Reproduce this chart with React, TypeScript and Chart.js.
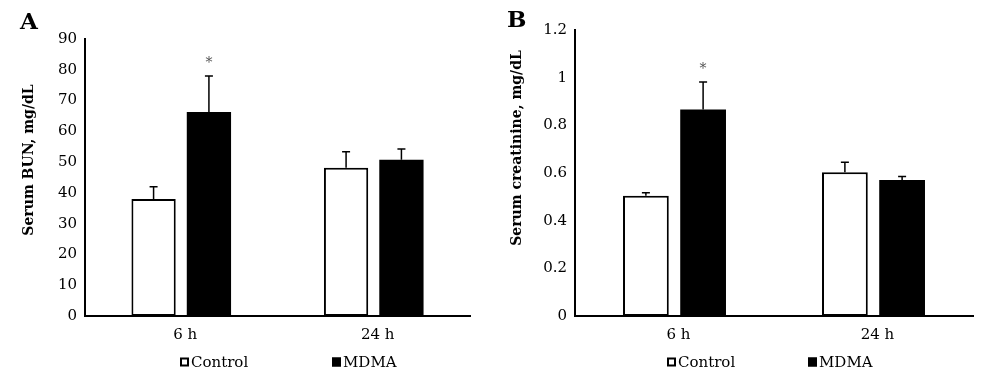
import React, { useEffect, useRef } from "react";
import { Chart, registerables } from "chart.js";

Chart.register(...registerables);

// ---- data ----
const categories = ["6 h", "24 h"];
const seriesNames = ["Control", "MDMA"];

const bunControl = [38, 48.2];
const bunControlErr = [4, 5.2];
const bunMdma = [66.3, 50.8];
const bunMdmaErr = [11.7, 3.5];
const bunControlMarks = ["", ""];
const bunMdmaMarks = ["*", ""];

const creatControl = [0.505, 0.603];
const creatControlErr = [0.012, 0.042];
const creatMdma = [0.866, 0.571];
const creatMdmaErr = [0.116, 0.014];
const creatControlMarks = ["", ""];
const creatMdmaMarks = ["*", ""];

const bunAxis = { max: 90, step: 10 };
const creatAxis = { max: 1.2, step: 0.2 };

const FONT = '"DejaVu Serif", serif';

const extrasPlugin = {
  id: "extras",
  afterDatasetsDraw(chart: any) {
    const { ctx } = chart;
    const yScale = chart.scales.y;
    chart.data.datasets.forEach((ds: any, i: number) => {
      const meta = chart.getDatasetMeta(i);
      meta.data.forEach((el: any, j: number) => {
        const v = ds.data[j];
        const err = ds.errors ? ds.errors[j] : 0;
        const yTop = yScale.getPixelForValue(v);
        const yErr = yScale.getPixelForValue(v + err);
        ctx.save();
        ctx.strokeStyle = "#000";
        ctx.lineWidth = 1.5;
        ctx.beginPath();
        ctx.moveTo(el.x, yTop);
        ctx.lineTo(el.x, yErr);
        ctx.moveTo(el.x - 4, yErr);
        ctx.lineTo(el.x + 4, yErr);
        ctx.stroke();
        const mark = ds.marks ? ds.marks[j] : "";
        if (mark) {
          ctx.fillStyle = "#555";
          ctx.font = `14px ${FONT}`;
          ctx.textAlign = "center";
          ctx.textBaseline = "alphabetic";
          ctx.fillText(mark, el.x, yErr - 9);
        }
        ctx.restore();
      });
    });
  },
  afterDraw(chart: any, _args: any, opts: any) {
    const { ctx, chartArea } = chart;
    ctx.save();
    // panel letter
    ctx.fillStyle = "#000";
    ctx.font = `bold 23px ${FONT}`;
    ctx.textAlign = "left";
    ctx.textBaseline = "alphabetic";
    ctx.fillText(opts.letter, opts.letterX, opts.letterY);
    // y axis title
    ctx.save();
    ctx.translate(opts.titleX, opts.titleY);
    ctx.rotate(-Math.PI / 2);
    ctx.font = `bold 14px ${FONT}`;
    ctx.textAlign = "center";
    ctx.textBaseline = "middle";
    ctx.fillText(opts.yTitle, 0, 0);
    ctx.restore();
    // legend
    const y = chartArea.bottom + 46;
    ctx.font = `15px ${FONT}`;
    ctx.textAlign = "left";
    ctx.textBaseline = "middle";
    chart.data.datasets.forEach((ds: any, i: number) => {
      const x = chartArea.left + opts.legendX[i];
      ctx.fillStyle = ds.backgroundColor;
      ctx.fillRect(x, y - 4.5, 9, 9);
      ctx.strokeStyle = "#000";
      ctx.lineWidth = 2;
      ctx.strokeRect(x + 1, y - 3.5, 7, 7);
      ctx.fillStyle = "#000";
      ctx.fillText(ds.label, x + 11, y + 1);
    });
    ctx.restore();
  },
};

type PanelCfg = {
  letter: string;
  letterX: number;
  letterY: number;
  yTitle: string;
  titleX: number;
  titleY: number;
  control: number[];
  controlErr: number[];
  controlMarks: string[];
  mdma: number[];
  mdmaErr: number[];
  mdmaMarks: string[];
  axis: { max: number; step: number };
  width: number;
  padRight: number;
  padTop: number;
  legendX: number[];
};

function BarPanel({ cfg }: { cfg: PanelCfg }) {
  const ref = useRef<HTMLCanvasElement>(null);
  useEffect(() => {
    const chart = new Chart(ref.current as HTMLCanvasElement, {
      type: "bar",
      data: {
        labels: categories,
        datasets: [
          {
            label: seriesNames[0],
            data: cfg.control,
            errors: cfg.controlErr,
            marks: cfg.controlMarks,
            backgroundColor: "#ffffff",
            borderColor: "#000000",
            borderWidth: 2,
            borderSkipped: false,
            categoryPercentage: 0.575,
            barPercentage: 0.8,
          } as any,
          {
            label: seriesNames[1],
            data: cfg.mdma,
            errors: cfg.mdmaErr,
            marks: cfg.mdmaMarks,
            backgroundColor: "#000000",
            borderColor: "#000000",
            borderWidth: 0,
            categoryPercentage: 0.575,
            barPercentage: 0.8,
          } as any,
        ],
      },
      options: {
        animation: false,
        responsive: false,
        maintainAspectRatio: false,
        layout: {
          padding: { left: 0, right: cfg.padRight, top: cfg.padTop, bottom: 38 },
        },
        plugins: {
          legend: { display: false },
          tooltip: { enabled: false },
          extras: {
            letter: cfg.letter,
            letterX: cfg.letterX,
            letterY: cfg.letterY,
            legendX: cfg.legendX,
            yTitle: cfg.yTitle,
            titleX: cfg.titleX,
            titleY: cfg.titleY,
          },
        } as any,
        scales: {
          x: {
            grid: { display: false, drawTicks: false },
            border: { display: true, color: "#000", width: 2 },
            ticks: { color: "#000", font: { family: FONT, size: 15 }, padding: 10, labelOffset: 4 },
            afterFit: (s: any) => {
              s.height = 29;
            },
          },
          y: {
            min: 0,
            max: cfg.axis.max,
            grid: { display: false, drawTicks: false },
            border: { display: true, color: "#000", width: 2 },
            ticks: {
              stepSize: cfg.axis.step,
              color: "#000",
              font: { family: FONT, size: 15 },
              padding: 8,
              callback: (v: any) => String(Number(Number(v).toFixed(2))),
            },
            afterFit: (s: any) => {
              s.width = 85;
            },
          },
        } as any,
      },
      plugins: [extrasPlugin],
    });
    return () => chart.destroy();
  }, [cfg]);
  return <canvas ref={ref} width={cfg.width} height={383} style={{ display: "block" }} />;
}

const panelA: PanelCfg = {
  letter: "A",
  letterX: 20,
  letterY: 29,
  yTitle: "Serum BUN, mg/dL",
  titleX: 29,
  titleY: 160,
  control: bunControl,
  controlErr: bunControlErr,
  controlMarks: bunControlMarks,
  mdma: bunMdma,
  mdmaErr: bunMdmaErr,
  mdmaMarks: bunMdmaMarks,
  axis: bunAxis,
  width: 490,
  padRight: 20,
  padTop: 39,
  legendX: [95, 247],
};

const panelB: PanelCfg = {
  letter: "B",
  letterX: 17,
  letterY: 27,
  yTitle: "Serum creatinine, mg/dL",
  titleX: 27,
  titleY: 148,
  control: creatControl,
  controlErr: creatControlErr,
  controlMarks: creatControlMarks,
  mdma: creatMdma,
  mdmaErr: creatMdmaErr,
  mdmaMarks: creatMdmaMarks,
  axis: creatAxis,
  width: 510,
  padRight: 27,
  padTop: 30,
  legendX: [92, 233],
};

export default function App() {
  return (
    <div
      style={{
        position: "fixed",
        left: 0,
        top: 0,
        width: 1000,
        height: 383,
        background: "#fff",
        display: "flex",
        flexDirection: "row",
      }}
    >
      <BarPanel cfg={panelA} />
      <BarPanel cfg={panelB} />
    </div>
  );
}
